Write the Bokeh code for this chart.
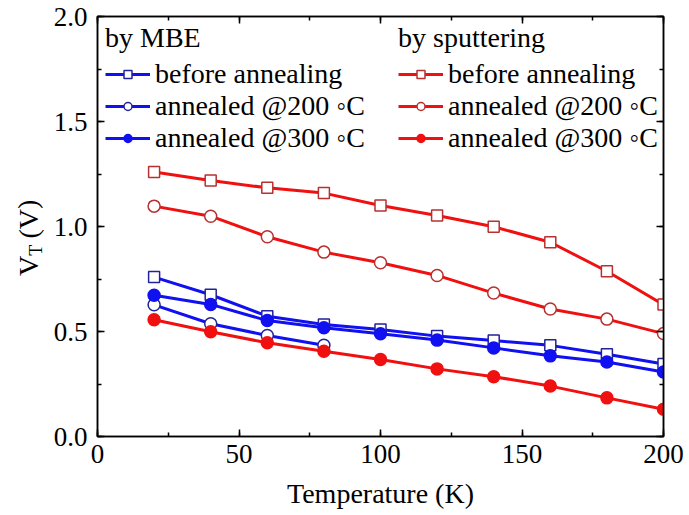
from bokeh.plotting import figure
from bokeh.layouts import row
from bokeh.models import (Range1d, LinearAxis, SingleIntervalTicker, NumeralTickFormatter,
                          Legend, LegendItem)
from bokeh.core.properties import value
from bokeh.embed import file_html
from bokeh.resources import INLINE

# ---------------- data ----------------
temperature = [20, 40, 60, 80, 100, 120, 140, 160, 180, 200]
temperature_mbe200 = [20, 40, 60, 80]

mbe_before = [0.759, 0.675, 0.573, 0.533, 0.510, 0.478, 0.457, 0.434, 0.392, 0.345]
mbe_200 = [0.627, 0.537, 0.481, 0.435]
mbe_300 = [0.673, 0.629, 0.552, 0.518, 0.489, 0.459, 0.422, 0.384, 0.355, 0.307]

sp_before = [1.260, 1.219, 1.184, 1.159, 1.100, 1.052, 0.999, 0.925, 0.787, 0.628]
sp_200 = [1.097, 1.049, 0.951, 0.878, 0.827, 0.767, 0.683, 0.607, 0.559, 0.490]
sp_300 = [0.556, 0.499, 0.446, 0.406, 0.367, 0.322, 0.285, 0.240, 0.184, 0.130]

legend_titles = ["by MBE", "by sputtering"]
legend_labels = ["before annealing", "annealed @200 \u25E6C", "annealed @300 \u25E6C"]
y_title_parts = ["V", "T", "(V)"]
x_title = "Temperature (K)"

FONT = "Liberation Serif"
BLUE = "#1010f0"
RED = "#f01010"
BLUE_EDGE = "#22229a"
RED_EDGE = "#b83030"

FIG_H = 510
LABEL_W = 50

p = figure(frame_width=566, frame_height=420,
           x_range=Range1d(0, 200), y_range=Range1d(0, 2.0),
           output_backend="svg", toolbar_location=None,
           min_border_left=46, min_border_right=22, min_border_top=16, min_border_bottom=74)

p.outline_line_color = "black"
p.outline_line_width = 1.5
p.xgrid.visible = False
p.ygrid.visible = False
p.background_fill_color = "white"
p.border_fill_color = "white"


def style_axis(ax, labels=True):
    ax.major_tick_in = 7
    ax.major_tick_out = 0
    ax.minor_tick_in = 4
    ax.minor_tick_out = 0
    ax.major_tick_line_width = 1.5
    ax.minor_tick_line_width = 1.5
    ax.major_tick_line_color = "black"
    ax.minor_tick_line_color = "black"
    ax.axis_line_color = "black"
    ax.axis_line_width = 1.5
    ax.major_label_text_font = FONT
    if labels:
        ax.major_label_text_font_size = "27px"
        ax.major_label_text_color = "black"
    else:
        ax.major_label_text_font_size = "1px"
        ax.major_label_text_color = None
        ax.major_label_standoff = 0


xax = p.xaxis[0]
xax.ticker = SingleIntervalTicker(interval=50, num_minor_ticks=2)
style_axis(xax)
xax.major_label_standoff = 8
xax.axis_label = x_title
xax.axis_label_text_font = FONT
xax.axis_label_text_font_size = "28px"
xax.axis_label_text_font_style = "normal"
xax.axis_label_text_color = "black"
xax.axis_label_standoff = 12

yax = p.yaxis[0]
yax.ticker = SingleIntervalTicker(interval=0.5, num_minor_ticks=2)
yax.formatter = NumeralTickFormatter(format="0.0")
style_axis(yax)
yax.major_label_standoff = 10

top_ax = LinearAxis(ticker=SingleIntervalTicker(interval=50, num_minor_ticks=2))
style_axis(top_ax, labels=False)
p.add_layout(top_ax, "above")
right_ax = LinearAxis(ticker=SingleIntervalTicker(interval=0.5, num_minor_ticks=2))
style_axis(right_ax, labels=False)
p.add_layout(right_ax, "right")

# ---------------- series ----------------
LW = 3


def series(xs, ys, color, marker, fill, edge, size):
    lr = p.line(xs, ys, line_color=color, line_width=LW)
    sr = p.scatter(xs, ys, marker=marker, size=size, fill_color=fill,
                   line_color=edge, line_width=1.5)
    return [lr, sr]


r_mbe_before = series(temperature, mbe_before, BLUE, "square", "white", BLUE_EDGE, 11)
r_mbe_200 = series(temperature_mbe200, mbe_200, BLUE, "circle", "white", BLUE_EDGE, 12)
r_mbe_300 = series(temperature, mbe_300, BLUE, "circle", BLUE, BLUE, 12)
r_sp_before = series(temperature, sp_before, RED, "square", "white", RED_EDGE, 11)
r_sp_200 = series(temperature, sp_200, RED, "circle", "white", RED_EDGE, 12)
r_sp_300 = series(temperature, sp_300, RED, "circle", RED, RED, 12)


def make_legend(title, groups, x):
    items = [LegendItem(label=lbl, renderers=rs) for lbl, rs in zip(legend_labels, groups)]
    lg = Legend(items=items, title=title, location=(x, 282),
                title_text_font=FONT, title_text_font_size="28px",
                title_text_font_style="normal", title_text_color="black",
                title_standoff=4,
                label_text_font=FONT, label_text_font_size="28px", label_text_color="black",
                glyph_width=45, glyph_height=20, label_height=30, label_standoff=5,
                spacing=0, padding=0, margin=0,
                background_fill_alpha=0, border_line_alpha=0)
    return lg


p.add_layout(make_legend(legend_titles[0], [r_mbe_before, r_mbe_200, r_mbe_300], 8))
p.add_layout(make_legend(legend_titles[1], [r_sp_before, r_sp_200, r_sp_300], 301))

# ---------------- y-axis title "V_T (V)" in a narrow side panel ----------------
ylab = figure(frame_width=LABEL_W, frame_height=FIG_H,
              x_range=Range1d(0, LABEL_W), y_range=Range1d(0, FIG_H),
              x_axis_type=None, y_axis_type=None,
              output_backend="svg", toolbar_location=None,
              min_border_left=0, min_border_right=0, min_border_top=0, min_border_bottom=0)
ylab.xgrid.visible = False
ylab.ygrid.visible = False
ylab.outline_line_color = None
ylab.background_fill_color = "white"
ylab.border_fill_color = "white"

common = dict(angle=1.5708, text_font=value(FONT), text_color="black",
              text_baseline="middle", text_align="center")
ylab.text(x=[27.5], y=[260.6], text=[y_title_parts[0]], text_font_size="28px", **common)
ylab.text(x=[35.9], y=[276.2], text=[y_title_parts[1]], text_font_size="18px", **common)
ylab.text(x=[27.5], y=[307.4], text=[y_title_parts[2]], text_font_size="28px", **common)

layout = row(ylab, p, spacing=0)

open("out.html", "w").write(file_html(layout, INLINE))
